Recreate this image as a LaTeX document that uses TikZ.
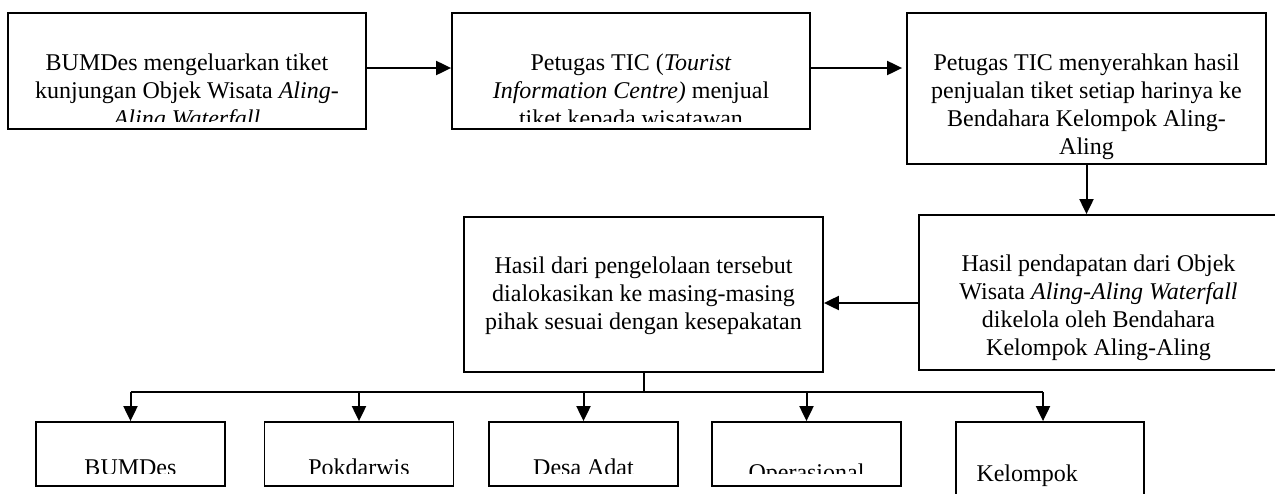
\documentclass[tikz,border=0pt]{standalone}
\usepackage{fontspec}
\setmainfont{Liberation Serif}
\usetikzlibrary{arrows.meta}
\tikzset{
  box/.style={draw, line width=0.9pt, inner sep=0pt},
  words/.style={align=center, font=\fontsize{12}{14}\selectfont, inner sep=0pt, anchor=north},
  arr/.style={line width=1pt, -{Triangle[length=7.5pt,width=7pt]}},
}
\begin{document}
\begin{tikzpicture}[x=1pt,y=-1pt]
        \useasboundingbox (0,0) rectangle (637.5,246.5);
        % boxes
        \node[box, minimum width=179pt, minimum height=58pt] (b1) at (93.5,35.5) {};
        \node[box, minimum width=179pt, minimum height=58pt] (b2) at (315.5,35.5) {};
        \node[box, minimum width=179.5pt, minimum height=75.5pt] (b3) at (543.25,44.25) {};
        \node[box, minimum width=179.5pt, minimum height=77.5pt] (b4) at (549.25,146.25) {};
        \node[box, minimum width=179.5pt, minimum height=77.5pt] (b5) at (321.75,147.25) {};
        \node[box, minimum width=94.5pt, minimum height=32pt] (c1) at (65.25,227) {};
        \node[box, minimum width=94.5pt, minimum height=32pt] (c2) at (179.5,227) {};
        \node[box, minimum width=94.5pt, minimum height=32pt] (c3) at (291.75,227) {};
        \node[box, minimum width=94.5pt, minimum height=32pt] (c4) at (403.25,227) {};
        \node[box, minimum width=94pt, minimum height=45pt] (c5) at (525,233.5) {};
        % texts
        \begin{scope}
        \clip (b1.north west) rectangle ([yshift=4pt]b1.south east);
        \node[words] (t1) at ([yshift=-20.5pt]b1.north) {BUMDes mengeluarkan tiket\\kunjungan Objek Wisata \textit{Aling-}\\\textit{Aling Waterfall}};
        \end{scope}
        \begin{scope}
        \clip (b2.north west) rectangle ([yshift=4pt]b2.south east);
        \node[words] (t2) at ([yshift=-20.5pt]b2.north) {Petugas TIC (\textit{Tourist}\\\textit{Information Centre)} menjual\\tiket kepada wisatawan};
        \end{scope}
        \node[words] (t3) at ([yshift=-20.5pt]b3.north) {Petugas TIC menyerahkan hasil\\penjualan tiket setiap harinya ke\\Bendahara Kelompok Aling-\\Aling};
        \node[words] (t4) at ([yshift=-20pt]b4.north) {Hasil pendapatan dari Objek\\Wisata \textit{Aling-Aling Waterfall}\\dikelola oleh Bendahara\\Kelompok Aling-Aling};
        \node[words] (t5) at ([yshift=-20pt]b5.north) {Hasil dari pengelolaan tersebut\\dialokasikan ke masing-masing\\pihak sesuai dengan kesepakatan};
        \begin{scope}
        \clip (c1.north west) rectangle ([yshift=6.5pt]c4.south east);
        \node[words, anchor=base] (u1) at ([yshift=-27pt]c1.north) {BUMDes};
        \node[words, anchor=base] (u2) at ([yshift=-27pt]c2.north) {Pokdarwis};
        \node[words, anchor=base] (u3) at ([yshift=-27pt]c3.north) {Desa Adat};
        \node[words, anchor=base] (u4) at ([yshift=-29.5pt]c4.north) {Operasional};
        \end{scope}
        \node[words, anchor=base west] (u5) at ([xshift=10.5pt,yshift=-30pt]c5.north west) {Kelompok};
        % connectors
        \coordinate (r1) at ([yshift=1.5pt]b1.east);
        \coordinate (r2) at ([yshift=1.5pt]b2.east);
        \draw[arr] (r1) -- (r1 -| b2.west);
        \draw[arr, shorten >=2pt] (r2) -- (r2 -| b3.west);
        \draw[arr] (b3.south) -- (b3.south |- b4.north);
        \draw[arr] ([yshift=-5.25pt]b4.west) -- ([yshift=-5.25pt]b4.west -| b5.east);
        \coordinate (bus) at (0,196);
        \draw[line width=1pt] (b5.south) -- (b5.south |- bus);
        \draw[line width=1pt] (c1.north |- bus) -- ([xshift=-3.5pt]c5.north |- bus);
        \draw[arr] (c1.north |- bus) -- (c1.north);
        \draw[arr] (c2.north |- bus) -- (c2.north);
        \draw[arr] (c3.north |- bus) -- (c3.north);
        \draw[arr] (c4.north |- bus) -- (c4.north);
        \draw[arr] ([xshift=-3.5pt]c5.north |- bus) -- ([xshift=-3.5pt]c5.north);
\end{tikzpicture}
\end{document}
